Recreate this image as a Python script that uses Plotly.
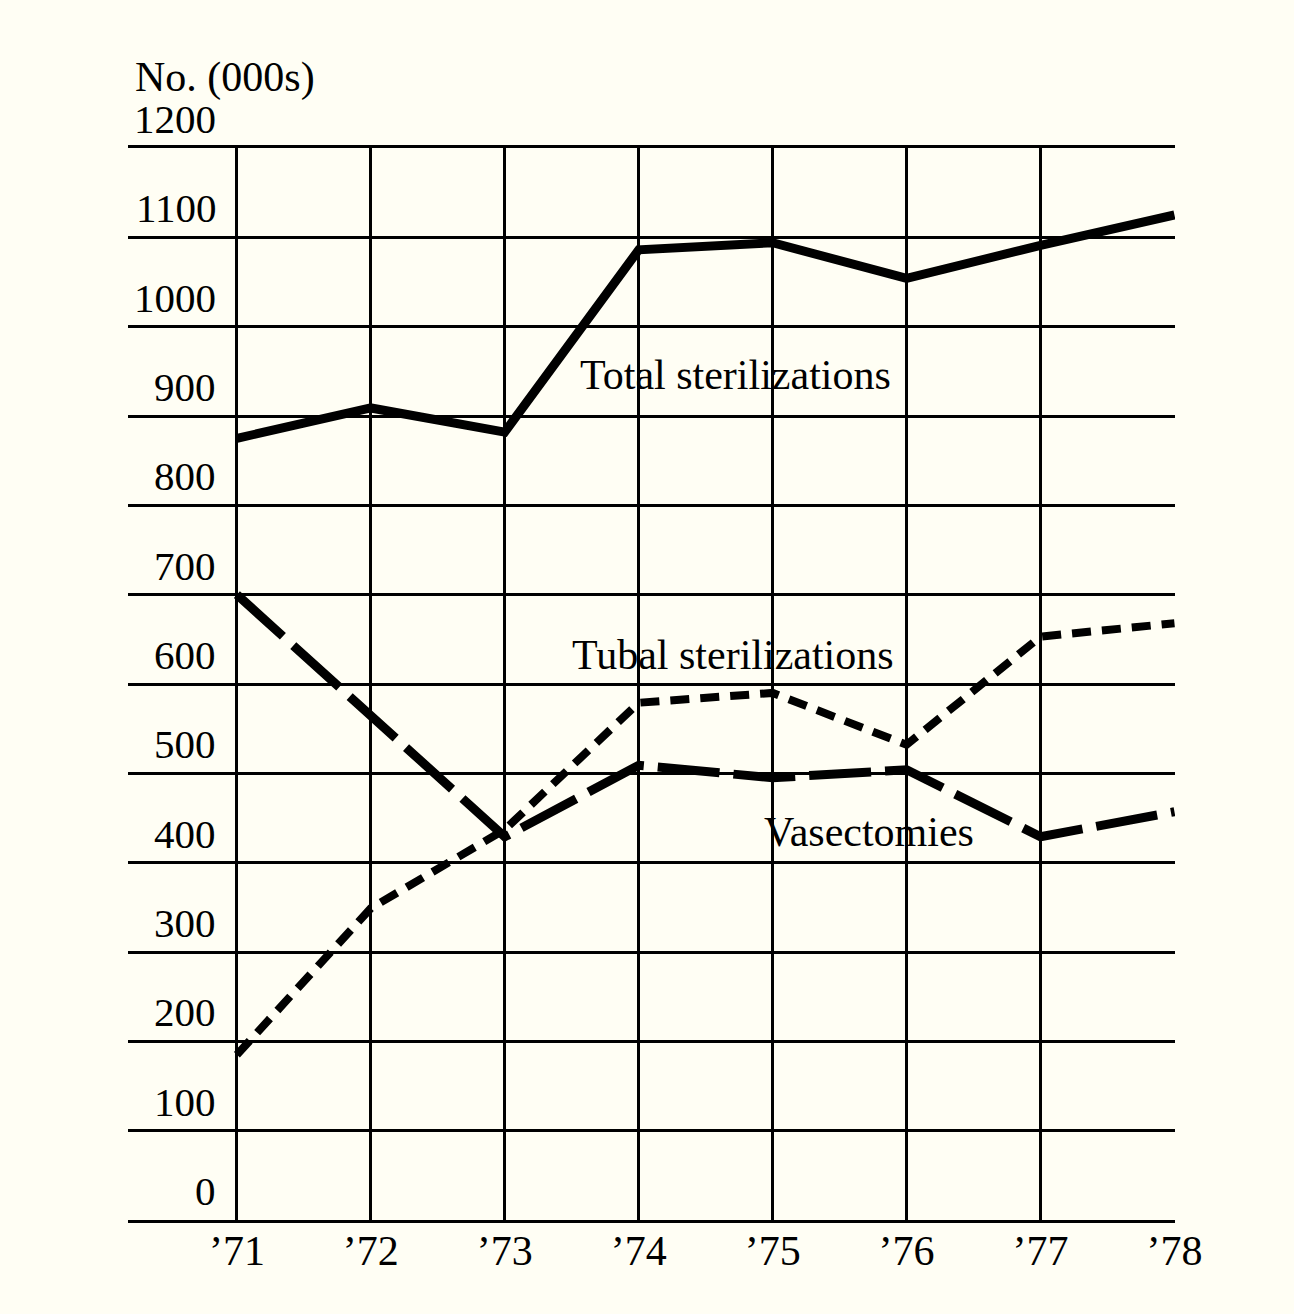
import plotly.graph_objects as go

years = [1971, 1972, 1973, 1974, 1975, 1976, 1977, 1978]
year_labels = ["’71", "’72", "’73", "’74", "’75", "’76", "’77", "’78"]
total = [875, 909, 882, 1086, 1094, 1054, 1091, 1125]
tubal = [185, 349, 437, 579, 590, 532, 653, 668]
vasectomies = [700, 564, 429, 509, 495, 504, 429, 457]
y_ticks = [0, 100, 200, 300, 400, 500, 600, 700, 800, 900, 1000, 1100, 1200]

FONT = "Liberation Serif"
BG = "#fffef4"

fig = go.Figure()
fig.add_trace(go.Scatter(x=years, y=total, mode="lines",
                         line=dict(color="black", width=9), name="Total sterilizations"))
fig.add_trace(go.Scatter(x=years, y=tubal, mode="lines",
                         line=dict(color="black", width=8, dash="19px,11px"), name="Tubal sterilizations"))
fig.add_trace(go.Scatter(x=years, y=vasectomies, mode="lines",
                         line=dict(color="black", width=9, dash="62px,14px"), name="Vasectomies"))

annotations = []
for v in y_ticks:
    annotations.append(dict(x=0.086, xref="paper", y=v, yref="y", text=str(v),
                            xanchor="right", yanchor="middle", yshift=29, showarrow=False,
                            font=dict(family=FONT, size=41, color="black")))
annotations.append(dict(x=0.0048, xref="paper", y=1.0653, yref="paper", text="No. (000s)",
                        xanchor="left", yanchor="middle", showarrow=False,
                        font=dict(family=FONT, size=42, color="black")))
annotations.append(dict(x=1973.545, y=946, text="Total sterilizations", xanchor="left",
                        yanchor="middle", showarrow=False,
                        font=dict(family=FONT, size=42, color="black")))
annotations.append(dict(x=1973.485, y=632, text="Tubal sterilizations", xanchor="left",
                        yanchor="middle", showarrow=False,
                        font=dict(family=FONT, size=42, color="black")))
annotations.append(dict(x=1974.918, y=434, text="Vasectomies", xanchor="left",
                        yanchor="middle", showarrow=False,
                        font=dict(family=FONT, size=42, color="black")))

fig.update_layout(
    width=1294, height=1314,
    margin=dict(l=128, r=119, t=148, b=94),
    paper_bgcolor=BG, plot_bgcolor=BG,
    showlegend=False,
    annotations=annotations,
    xaxis=dict(range=[1970.187, 1978.004], tickmode="array", tickvals=years, ticktext=year_labels,
               showgrid=True, gridcolor="black", gridwidth=2.5,
               showline=True, mirror=True, linecolor="black", linewidth=3,
               ticks="", zeroline=False, ticklabelstandoff=-8,
               tickfont=dict(family=FONT, size=42, color="black")),
    yaxis=dict(range=[0, 1200], tickmode="array", tickvals=y_ticks, showticklabels=False,
               showgrid=True, gridcolor="black", gridwidth=2.5,
               showline=False, zeroline=False, ticks=""),
)

fig.write_html("out.html")
